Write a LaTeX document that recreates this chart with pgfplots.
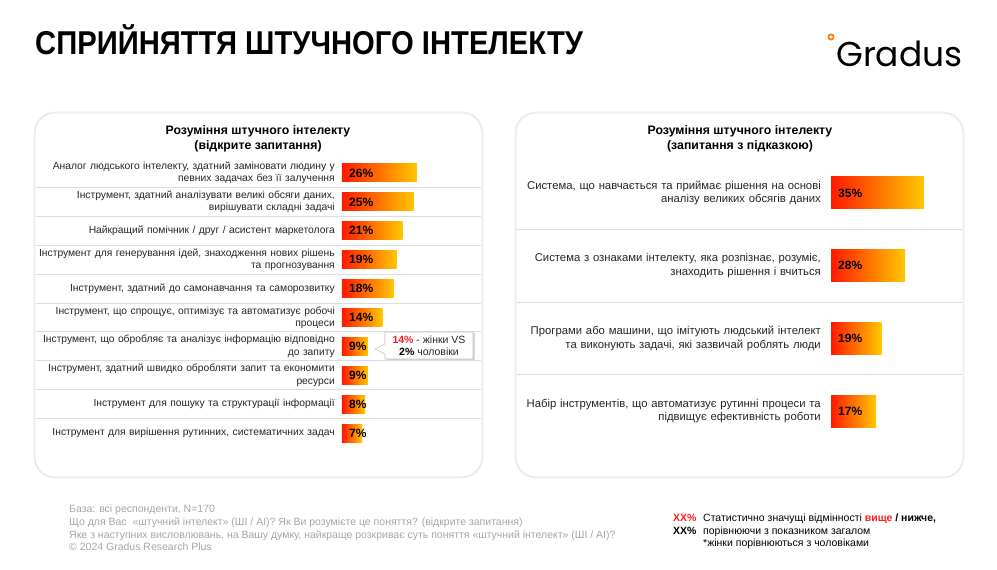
\documentclass[border=0pt]{standalone}
\usepackage{fontspec}
\setmainfont{Liberation Sans}
\newfontfamily\poppins{Poppins}
\usepackage{pgfplots}
\usepackage{pgfplotstable}
\pgfplotsset{compat=1.18}
\definecolor{barred}{HTML}{FF1A00}
\definecolor{baryel}{HTML}{FFC800}
\definecolor{sepgray}{HTML}{DCDCDC}
\definecolor{footgray}{HTML}{A6A6A6}
\definecolor{hired}{HTML}{FF1F1F}

\pgfplotstableread{
y v
1 26
2 25
3 21
4 19
5 18
6 14
7 9
8 9
9 8
10 7
}\dataL
\pgfplotstableread{
y v
1 35
2 28
3 19
4 17
}\dataR

\begin{document}
\begin{tikzpicture}[x=1pt,y=1pt]
\useasboundingbox (0,0) rectangle (997,570);
\fill[white] (0,0) rectangle (997,570);

% title
\node[anchor=base west, inner sep=0] at (35,515) {\scalebox{0.885}[1]{\fontsize{33}{33}\selectfont\bfseries СПРИЙНЯТТЯ ШТУЧНОГО ІНТЕЛЕКТУ}};
% logo
\node[anchor=base west, inner sep=0] at (836,503) {\poppins\fontsize{34.5}{34.5}\selectfont Gradus};
\draw[color=orange!90!red, line width=1.6pt] (831,533) circle (2.6);

% panels
\foreach \xa/\xb in {35/482, 516/963}{
  \draw[draw=black!5, line width=3pt, rounded corners=20pt] (\xa,93) rectangle (\xb,457);
  \draw[draw=black!10, line width=0.8pt, fill=white, rounded corners=20pt] (\xa,93) rectangle (\xb,457);
}

% panel titles
\node[align=center, font=\bfseries\fontsize{12.3}{15}\selectfont] at (258,431.5) {Розуміння штучного інтелекту\\(відкрите запитання)};
\node[align=center, font=\bfseries\fontsize{12.3}{15}\selectfont] at (740,431.5) {Розуміння штучного інтелекту\\(запитання з підказкою)};

% separators
\foreach \i in {1,...,9}{
  \draw[sepgray, line width=1pt] (36,{411.45-\i*28.9}) -- (481,{411.45-\i*28.9});
}
\foreach \i in {1,2,3}{
  \draw[sepgray, line width=1pt] (517,{413.35-\i*72.7}) -- (962,{413.35-\i*72.7});
}

% left axis
\begin{axis}[
  at={(342pt,411.45pt)}, anchor=north west,
  scale only axis, width=115.2pt, height=289pt,
  xmin=0, xmax=40, ymin=0.5, ymax=10.5, y dir=reverse,
  axis line style={draw=none}, xtick=\empty, ytick={1,...,10},
  major tick length=0pt, clip=false,
  unbounded coords=discard,
  yticklabels={
    {Аналог людського інтелекту, здатний заміновати людину у\\певних задачах без її залучення},
    {Інструмент, здатний аналізувати великі обсяги даних,\\вирішувати складні задачі},
    {Найкращий помічник / друг / асистент маркетолога},
    {Інструмент для генерування ідей, знаходження нових рішень\\та прогнозування},
    {Інструмент, здатний до самонавчання та саморозвитку},
    {Інструмент, що спрощує, оптимізує та автоматизує робочі\\процеси},
    {Інструмент, що обробляє та аналізує інформацію відповідно\\до запиту},
    {Інструмент, здатний швидко обробляти запит та економити\\ресурси},
    {Інструмент для пошуку та структурації інформації},
    {Інструмент для вирішення рутинних, систематичних задач}
  },
  yticklabel style={font=\fontsize{10.3}{12.3}\selectfont, align=right, text width=330pt, inner sep=0pt, xshift=-7pt, text=black!85},
]
\pgfplotsinvokeforeach{1,...,10}{
  \addplot[xbar, bar width=18pt, bar shift=0pt, draw=none, left color=barred, right color=baryel,
    restrict expr to domain={\thisrow{y}}{#1:#1}] table[x=v, y=y] \dataL;
}
\addplot[draw=none, point meta=explicit symbolic,
  nodes near coords={\pgfplotspointmeta\%},
  nodes near coords align=horizontal,
  every node near coord/.style={anchor=west, xshift=7pt, inner sep=0pt, text=black, font=\bfseries\fontsize{12}{12}\selectfont}]
  table[x expr=0, y=y, meta=v] \dataL;
\end{axis}

% right axis
\begin{axis}[
  at={(831pt,413.35pt)}, anchor=north west,
  scale only axis, width=106pt, height=290.8pt,
  xmin=0, xmax=40, ymin=0.5, ymax=4.5, y dir=reverse,
  axis line style={draw=none}, xtick=\empty, ytick={1,...,4},
  major tick length=0pt, clip=false,
  unbounded coords=discard,
  yticklabels={
    {Система, що навчається та приймає рішення на основі\\аналізу великих обсягів даних},
    {Система з ознаками інтелекту, яка розпізнає, розуміє,\\знаходить рішення і вчиться},
    {Програми або машини, що імітують людський інтелект\\та виконують задачі, які зазвичай роблять люди},
    {Набір інструментів, що автоматизує рутинні процеси та\\підвищує ефективність роботи}
  },
  yticklabel style={font=\fontsize{11.3}{13.3}\selectfont, align=right, text width=320pt, inner sep=0pt, xshift=-10pt, text=black!85},
]
\pgfplotsinvokeforeach{1,...,4}{
  \addplot[xbar, bar width=32pt, bar shift=0pt, draw=none, left color=barred, right color=baryel,
    restrict expr to domain={\thisrow{y}}{#1:#1}] table[x=v, y=y] \dataR;
}
\addplot[draw=none, point meta=explicit symbolic,
  nodes near coords={\pgfplotspointmeta\%},
  nodes near coords align=horizontal,
  every node near coord/.style={anchor=west, xshift=7pt, inner sep=0pt, text=black, font=\bfseries\fontsize{12}{12}\selectfont}]
  table[x expr=0, y=y, meta=v] \dataR;
\end{axis}

% callout
\fill[black!15] (386.5,236.5) -- (474.5,236.5) -- (474.5,209.5) -- (386.5,209.5) -- cycle;
\draw[draw=black!25, fill=white, line width=0.6pt] (385,238) -- (473,238) -- (473,211) -- (385,211) -- (385,216) -- (375,221) -- (385,226) -- cycle;
\node[align=center, font=\fontsize{10.5}{12}\selectfont, text=black!85] at (429,224.5) {{\color{hired}\bfseries 14\%} - жінки VS\\{\bfseries\color{black}2\%} чоловіки};

% footer
\begin{scope}[every node/.style={anchor=base west, inner sep=0, text=footgray, font=\fontsize{10.5}{10.5}\selectfont}]
\node at (69,57.5) {База: всі респонденти, N=170};
\node at (69,44.5) {Що для Вас \ «штучний інтелект» (ШІ / АІ)? Як Ви розумієте це поняття? (відкрите запитання)};
\node at (69,31.5) {Яке з наступних висловлювань, на Вашу думку, найкраще розкриває суть поняття «штучний інтелект» (ШІ / АІ)?};
\node at (69,19.5) {© 2024 Gradus Research Plus};
\end{scope}

% legend
\begin{scope}[every node/.style={anchor=base west, inner sep=0, font=\fontsize{10.5}{10.5}\selectfont}]
\node[text=hired, font=\bfseries\fontsize{10.5}{10.5}\selectfont] at (673,48.5) {XX\%};
\node[text=black, font=\bfseries\fontsize{10.5}{10.5}\selectfont] at (673,35.5) {XX\%};
\node at (703,48.5) {Статистично значущі відмінності {\color{hired}\bfseries вище} \textbf{/ нижче,}};
\node at (703,35.5) {порівнюючи з показником загалом};
\node at (703,23.5) {*жінки порівнюються з чоловіками};
\end{scope}
\end{tikzpicture}
\end{document}
